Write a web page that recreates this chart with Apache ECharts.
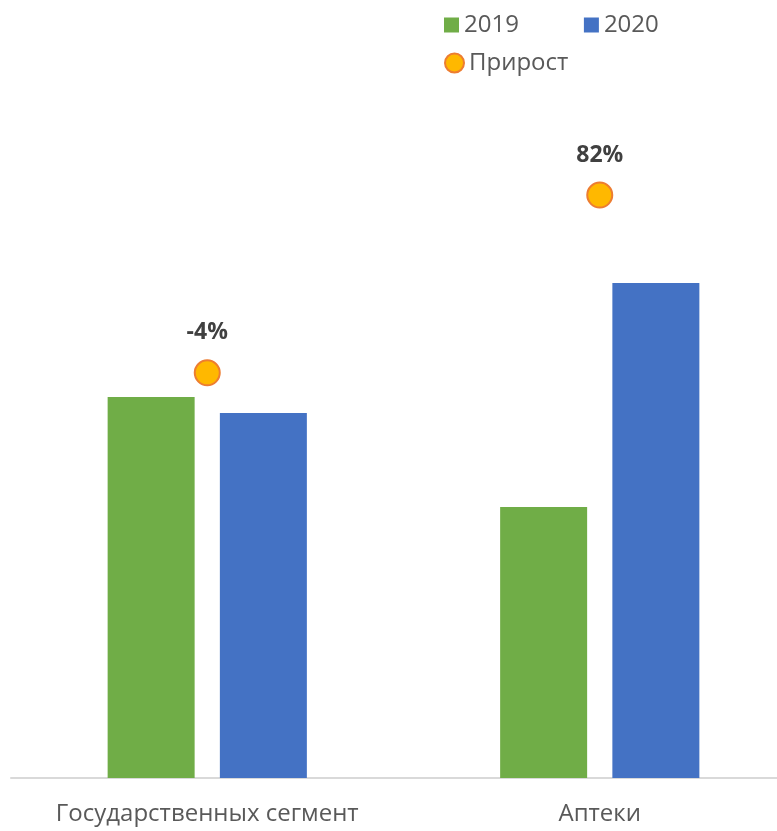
<!DOCTYPE html>
<html>
<head>
<meta charset="utf-8">
<script src="https://cdn.jsdelivr.net/npm/echarts@6/dist/echarts.min.js"></script>
<style>
html,body{margin:0;padding:0;background:#fff;}
#chart{width:777px;height:831px;}
</style>
</head>
<body>
<div id="chart"></div>
<script>
// категории и значения
var categories = ['Государственных сегмент', 'Аптеки'];
var values2019 = [381, 271];
var values2020 = [365, 495];
var growth = [-4, 82];

var COLOR = {
	Y2019: '#70AD47',
	Y2020: '#4472C4',
	DOT: '#FFB800',
	DOT_BORDER: '#ED7D31',
	TEXT: '#595959'
};

var myChart = echarts.init(document.getElementById('chart'));
myChart.setOption({
	animation: false,
	legend: [
		{
			data: ['2019', '2020'],
			left: 439,
			top: 8,
			itemGap: 65,
			itemWidth: 15,
			itemHeight: 15,
			icon: 'rect',
			textStyle: { color: COLOR.TEXT, fontSize: 24, fontFamily: 'Open Sans' }
		},
		{
			data: ['Прирост'],
			left: 439,
			top: 46,
			itemWidth: 19,
			itemHeight: 19,
			icon: 'circle',
			textStyle: { color: COLOR.TEXT, fontSize: 24, fontFamily: 'Open Sans' }
		}
	],
	grid: {
		left: 11,
		width: 785,
		top: 78,
		height: 700,
		outerBoundsMode: 'none',
		containLabel: false
	},
	xAxis: {
		type: 'category',
		data: categories,
		axisTick: { show: false },
		axisLine: { lineStyle: { color: '#D9D9D9', width: 2 } },
		axisLabel: {
			interval: 0,
			hideOverlap: false,
			color: COLOR.TEXT,
			fontSize: 24,
			fontFamily: 'Open Sans',
			margin: 24
		}
	},
	yAxis: [
		{
			type: 'value',
			min: 0,
			max: 700,
			show: false
		},
		{
			type: 'value',
			min: -200,
			max: 138.6,
			show: false
		}
	],
	series: [
		{
			name: '2019',
			type: 'bar',
			barWidth: 87,
			barGap: '29%',
			itemStyle: { color: COLOR.Y2019 },
			data: values2019
		},
		{
			name: '2020',
			type: 'bar',
			barWidth: 87,
			itemStyle: { color: COLOR.Y2020 },
			data: values2020
		},
		{
			name: 'Прирост',
			type: 'scatter',
			yAxisIndex: 1,
			symbol: 'circle',
			symbolSize: 25,
			itemStyle: { color: COLOR.DOT, borderColor: COLOR.DOT_BORDER, borderWidth: 2, opacity: 1 },
			label: {
				show: true,
				position: 'top',
				distance: 15,
				formatter: function (p) { return p.value + '%'; },
				color: '#404040',
				opacity: 1,
				fontSize: 23,
				fontWeight: 'bold',
				fontFamily: 'Open Sans'
			},
			data: growth
		}
	]
});
</script>
</body>
</html>
